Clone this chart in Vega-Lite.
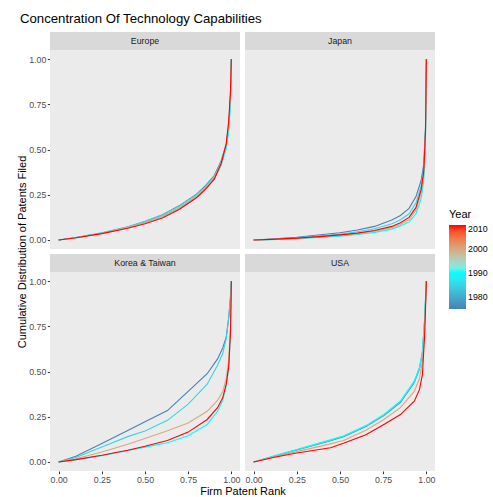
{
"$schema":"https://vega.github.io/schema/vega-lite/v6.json",
"padding":{"left":16,"top":11,"right":5,"bottom":0},
"background":"white",
"title":{"text":"Concentration Of Technology Capabilities","anchor":"start","frame":"bounds","fontSize":13.2,"fontWeight":"normal","color":"black","offset":6,"dx":3},
"datasets":{"d":[
{"r":"Europe","yr":1975,"x":0,"v":0},{"r":"Europe","yr":1975,"x":0.1,"v":0.013},{"r":"Europe","yr":1975,"x":0.25,"v":0.038},{"r":"Europe","yr":1975,"x":0.4,"v":0.072},{"r":"Europe","yr":1975,"x":0.5,"v":0.102},{"r":"Europe","yr":1975,"x":0.6,"v":0.138},{"r":"Europe","yr":1975,"x":0.7,"v":0.19},{"r":"Europe","yr":1975,"x":0.8,"v":0.255},{"r":"Europe","yr":1975,"x":0.85,"v":0.3},{"r":"Europe","yr":1975,"x":0.9,"v":0.355},{"r":"Europe","yr":1975,"x":0.94,"v":0.435},{"r":"Europe","yr":1975,"x":0.97,"v":0.53},{"r":"Europe","yr":1975,"x":0.985,"v":0.64},{"r":"Europe","yr":1975,"x":0.995,"v":0.8},{"r":"Europe","yr":1975,"x":1,"v":1},
{"r":"Europe","yr":1985,"x":0,"v":0},{"r":"Europe","yr":1985,"x":0.1,"v":0.013},{"r":"Europe","yr":1985,"x":0.25,"v":0.039},{"r":"Europe","yr":1985,"x":0.4,"v":0.073},{"r":"Europe","yr":1985,"x":0.5,"v":0.103},{"r":"Europe","yr":1985,"x":0.6,"v":0.14},{"r":"Europe","yr":1985,"x":0.7,"v":0.188},{"r":"Europe","yr":1985,"x":0.8,"v":0.252},{"r":"Europe","yr":1985,"x":0.85,"v":0.295},{"r":"Europe","yr":1985,"x":0.9,"v":0.35},{"r":"Europe","yr":1985,"x":0.94,"v":0.425},{"r":"Europe","yr":1985,"x":0.97,"v":0.52},{"r":"Europe","yr":1985,"x":0.985,"v":0.62},{"r":"Europe","yr":1985,"x":0.995,"v":0.78},{"r":"Europe","yr":1985,"x":1,"v":1},
{"r":"Europe","yr":1990,"x":0,"v":0},{"r":"Europe","yr":1990,"x":0.1,"v":0.012},{"r":"Europe","yr":1990,"x":0.25,"v":0.036},{"r":"Europe","yr":1990,"x":0.4,"v":0.068},{"r":"Europe","yr":1990,"x":0.5,"v":0.095},{"r":"Europe","yr":1990,"x":0.6,"v":0.128},{"r":"Europe","yr":1990,"x":0.7,"v":0.175},{"r":"Europe","yr":1990,"x":0.8,"v":0.24},{"r":"Europe","yr":1990,"x":0.85,"v":0.283},{"r":"Europe","yr":1990,"x":0.9,"v":0.335},{"r":"Europe","yr":1990,"x":0.94,"v":0.41},{"r":"Europe","yr":1990,"x":0.97,"v":0.505},{"r":"Europe","yr":1990,"x":0.985,"v":0.6},{"r":"Europe","yr":1990,"x":0.995,"v":0.76},{"r":"Europe","yr":1990,"x":1,"v":1},
{"r":"Europe","yr":2000,"x":0,"v":0},{"r":"Europe","yr":2000,"x":0.1,"v":0.012},{"r":"Europe","yr":2000,"x":0.25,"v":0.037},{"r":"Europe","yr":2000,"x":0.4,"v":0.07},{"r":"Europe","yr":2000,"x":0.5,"v":0.098},{"r":"Europe","yr":2000,"x":0.6,"v":0.132},{"r":"Europe","yr":2000,"x":0.7,"v":0.18},{"r":"Europe","yr":2000,"x":0.8,"v":0.245},{"r":"Europe","yr":2000,"x":0.85,"v":0.29},{"r":"Europe","yr":2000,"x":0.9,"v":0.345},{"r":"Europe","yr":2000,"x":0.94,"v":0.425},{"r":"Europe","yr":2000,"x":0.97,"v":0.525},{"r":"Europe","yr":2000,"x":0.985,"v":0.64},{"r":"Europe","yr":2000,"x":0.995,"v":0.8},{"r":"Europe","yr":2000,"x":1,"v":1},
{"r":"Europe","yr":2010,"x":0,"v":0},{"r":"Europe","yr":2010,"x":0.1,"v":0.012},{"r":"Europe","yr":2010,"x":0.25,"v":0.035},{"r":"Europe","yr":2010,"x":0.4,"v":0.065},{"r":"Europe","yr":2010,"x":0.5,"v":0.09},{"r":"Europe","yr":2010,"x":0.6,"v":0.122},{"r":"Europe","yr":2010,"x":0.7,"v":0.17},{"r":"Europe","yr":2010,"x":0.8,"v":0.235},{"r":"Europe","yr":2010,"x":0.85,"v":0.28},{"r":"Europe","yr":2010,"x":0.9,"v":0.335},{"r":"Europe","yr":2010,"x":0.94,"v":0.42},{"r":"Europe","yr":2010,"x":0.97,"v":0.53},{"r":"Europe","yr":2010,"x":0.985,"v":0.66},{"r":"Europe","yr":2010,"x":0.995,"v":0.83},{"r":"Europe","yr":2010,"x":1,"v":1},
{"r":"Japan","yr":1975,"x":0,"v":0},{"r":"Japan","yr":1975,"x":0.1,"v":0.005},{"r":"Japan","yr":1975,"x":0.25,"v":0.015},{"r":"Japan","yr":1975,"x":0.4,"v":0.03},{"r":"Japan","yr":1975,"x":0.5,"v":0.04},{"r":"Japan","yr":1975,"x":0.6,"v":0.055},{"r":"Japan","yr":1975,"x":0.7,"v":0.075},{"r":"Japan","yr":1975,"x":0.8,"v":0.11},{"r":"Japan","yr":1975,"x":0.85,"v":0.135},{"r":"Japan","yr":1975,"x":0.9,"v":0.175},{"r":"Japan","yr":1975,"x":0.94,"v":0.24},{"r":"Japan","yr":1975,"x":0.97,"v":0.33},{"r":"Japan","yr":1975,"x":0.985,"v":0.42},{"r":"Japan","yr":1975,"x":0.995,"v":0.62},{"r":"Japan","yr":1975,"x":1,"v":1},
{"r":"Japan","yr":1985,"x":0,"v":0},{"r":"Japan","yr":1985,"x":0.1,"v":0.004},{"r":"Japan","yr":1985,"x":0.25,"v":0.012},{"r":"Japan","yr":1985,"x":0.4,"v":0.024},{"r":"Japan","yr":1985,"x":0.5,"v":0.032},{"r":"Japan","yr":1985,"x":0.6,"v":0.045},{"r":"Japan","yr":1985,"x":0.7,"v":0.062},{"r":"Japan","yr":1985,"x":0.8,"v":0.09},{"r":"Japan","yr":1985,"x":0.85,"v":0.112},{"r":"Japan","yr":1985,"x":0.9,"v":0.145},{"r":"Japan","yr":1985,"x":0.94,"v":0.205},{"r":"Japan","yr":1985,"x":0.97,"v":0.3},{"r":"Japan","yr":1985,"x":0.985,"v":0.4},{"r":"Japan","yr":1985,"x":0.995,"v":0.61},{"r":"Japan","yr":1985,"x":1,"v":1},
{"r":"Japan","yr":1990,"x":0,"v":0},{"r":"Japan","yr":1990,"x":0.1,"v":0.002},{"r":"Japan","yr":1990,"x":0.25,"v":0.007},{"r":"Japan","yr":1990,"x":0.4,"v":0.015},{"r":"Japan","yr":1990,"x":0.5,"v":0.021},{"r":"Japan","yr":1990,"x":0.6,"v":0.03},{"r":"Japan","yr":1990,"x":0.7,"v":0.042},{"r":"Japan","yr":1990,"x":0.8,"v":0.06},{"r":"Japan","yr":1990,"x":0.85,"v":0.077},{"r":"Japan","yr":1990,"x":0.9,"v":0.1},{"r":"Japan","yr":1990,"x":0.94,"v":0.145},{"r":"Japan","yr":1990,"x":0.97,"v":0.23},{"r":"Japan","yr":1990,"x":0.985,"v":0.33},{"r":"Japan","yr":1990,"x":0.995,"v":0.56},{"r":"Japan","yr":1990,"x":1,"v":1},
{"r":"Japan","yr":2000,"x":0,"v":0},{"r":"Japan","yr":2000,"x":0.1,"v":0.003},{"r":"Japan","yr":2000,"x":0.25,"v":0.009},{"r":"Japan","yr":2000,"x":0.4,"v":0.018},{"r":"Japan","yr":2000,"x":0.5,"v":0.025},{"r":"Japan","yr":2000,"x":0.6,"v":0.035},{"r":"Japan","yr":2000,"x":0.7,"v":0.048},{"r":"Japan","yr":2000,"x":0.8,"v":0.068},{"r":"Japan","yr":2000,"x":0.85,"v":0.085},{"r":"Japan","yr":2000,"x":0.9,"v":0.112},{"r":"Japan","yr":2000,"x":0.94,"v":0.165},{"r":"Japan","yr":2000,"x":0.97,"v":0.26},{"r":"Japan","yr":2000,"x":0.985,"v":0.36},{"r":"Japan","yr":2000,"x":0.995,"v":0.58},{"r":"Japan","yr":2000,"x":1,"v":1},
{"r":"Japan","yr":2010,"x":0,"v":0},{"r":"Japan","yr":2010,"x":0.1,"v":0.003},{"r":"Japan","yr":2010,"x":0.25,"v":0.01},{"r":"Japan","yr":2010,"x":0.4,"v":0.02},{"r":"Japan","yr":2010,"x":0.5,"v":0.028},{"r":"Japan","yr":2010,"x":0.6,"v":0.038},{"r":"Japan","yr":2010,"x":0.7,"v":0.052},{"r":"Japan","yr":2010,"x":0.8,"v":0.075},{"r":"Japan","yr":2010,"x":0.85,"v":0.095},{"r":"Japan","yr":2010,"x":0.9,"v":0.125},{"r":"Japan","yr":2010,"x":0.94,"v":0.18},{"r":"Japan","yr":2010,"x":0.97,"v":0.28},{"r":"Japan","yr":2010,"x":0.985,"v":0.38},{"r":"Japan","yr":2010,"x":0.995,"v":0.6},{"r":"Japan","yr":2010,"x":1,"v":1},
{"r":"Korea & Taiwan","yr":1975,"x":0,"v":0},{"r":"Korea & Taiwan","yr":1975,"x":0.1,"v":0.032},{"r":"Korea & Taiwan","yr":1975,"x":0.25,"v":0.102},{"r":"Korea & Taiwan","yr":1975,"x":0.4,"v":0.174},{"r":"Korea & Taiwan","yr":1975,"x":0.5,"v":0.222},{"r":"Korea & Taiwan","yr":1975,"x":0.63,"v":0.284},{"r":"Korea & Taiwan","yr":1975,"x":0.75,"v":0.39},{"r":"Korea & Taiwan","yr":1975,"x":0.86,"v":0.488},{"r":"Korea & Taiwan","yr":1975,"x":0.92,"v":0.57},{"r":"Korea & Taiwan","yr":1975,"x":0.95,"v":0.63},{"r":"Korea & Taiwan","yr":1975,"x":0.97,"v":0.69},{"r":"Korea & Taiwan","yr":1975,"x":0.985,"v":0.8},{"r":"Korea & Taiwan","yr":1975,"x":0.995,"v":0.91},{"r":"Korea & Taiwan","yr":1975,"x":1,"v":1},
{"r":"Korea & Taiwan","yr":1985,"x":0,"v":0},{"r":"Korea & Taiwan","yr":1985,"x":0.1,"v":0.025},{"r":"Korea & Taiwan","yr":1985,"x":0.25,"v":0.083},{"r":"Korea & Taiwan","yr":1985,"x":0.4,"v":0.14},{"r":"Korea & Taiwan","yr":1985,"x":0.5,"v":0.171},{"r":"Korea & Taiwan","yr":1985,"x":0.63,"v":0.23},{"r":"Korea & Taiwan","yr":1985,"x":0.75,"v":0.32},{"r":"Korea & Taiwan","yr":1985,"x":0.86,"v":0.43},{"r":"Korea & Taiwan","yr":1985,"x":0.92,"v":0.535},{"r":"Korea & Taiwan","yr":1985,"x":0.95,"v":0.6},{"r":"Korea & Taiwan","yr":1985,"x":0.97,"v":0.68},{"r":"Korea & Taiwan","yr":1985,"x":0.985,"v":0.8},{"r":"Korea & Taiwan","yr":1985,"x":0.995,"v":0.92},{"r":"Korea & Taiwan","yr":1985,"x":1,"v":1},
{"r":"Korea & Taiwan","yr":1990,"x":0,"v":0},{"r":"Korea & Taiwan","yr":1990,"x":0.1,"v":0.013},{"r":"Korea & Taiwan","yr":1990,"x":0.25,"v":0.035},{"r":"Korea & Taiwan","yr":1990,"x":0.4,"v":0.063},{"r":"Korea & Taiwan","yr":1990,"x":0.5,"v":0.082},{"r":"Korea & Taiwan","yr":1990,"x":0.63,"v":0.106},{"r":"Korea & Taiwan","yr":1990,"x":0.75,"v":0.145},{"r":"Korea & Taiwan","yr":1990,"x":0.86,"v":0.207},{"r":"Korea & Taiwan","yr":1990,"x":0.92,"v":0.28},{"r":"Korea & Taiwan","yr":1990,"x":0.95,"v":0.34},{"r":"Korea & Taiwan","yr":1990,"x":0.97,"v":0.42},{"r":"Korea & Taiwan","yr":1990,"x":0.985,"v":0.52},{"r":"Korea & Taiwan","yr":1990,"x":0.995,"v":0.72},{"r":"Korea & Taiwan","yr":1990,"x":1,"v":1},
{"r":"Korea & Taiwan","yr":2000,"x":0,"v":0},{"r":"Korea & Taiwan","yr":2000,"x":0.1,"v":0.018},{"r":"Korea & Taiwan","yr":2000,"x":0.25,"v":0.055},{"r":"Korea & Taiwan","yr":2000,"x":0.4,"v":0.098},{"r":"Korea & Taiwan","yr":2000,"x":0.5,"v":0.13},{"r":"Korea & Taiwan","yr":2000,"x":0.63,"v":0.172},{"r":"Korea & Taiwan","yr":2000,"x":0.75,"v":0.215},{"r":"Korea & Taiwan","yr":2000,"x":0.86,"v":0.28},{"r":"Korea & Taiwan","yr":2000,"x":0.92,"v":0.34},{"r":"Korea & Taiwan","yr":2000,"x":0.95,"v":0.39},{"r":"Korea & Taiwan","yr":2000,"x":0.97,"v":0.46},{"r":"Korea & Taiwan","yr":2000,"x":0.985,"v":0.57},{"r":"Korea & Taiwan","yr":2000,"x":0.995,"v":0.75},{"r":"Korea & Taiwan","yr":2000,"x":1,"v":1},
{"r":"Korea & Taiwan","yr":2010,"x":0,"v":0},{"r":"Korea & Taiwan","yr":2010,"x":0.1,"v":0.013},{"r":"Korea & Taiwan","yr":2010,"x":0.25,"v":0.037},{"r":"Korea & Taiwan","yr":2010,"x":0.4,"v":0.065},{"r":"Korea & Taiwan","yr":2010,"x":0.5,"v":0.087},{"r":"Korea & Taiwan","yr":2010,"x":0.63,"v":0.119},{"r":"Korea & Taiwan","yr":2010,"x":0.75,"v":0.165},{"r":"Korea & Taiwan","yr":2010,"x":0.86,"v":0.235},{"r":"Korea & Taiwan","yr":2010,"x":0.92,"v":0.3},{"r":"Korea & Taiwan","yr":2010,"x":0.95,"v":0.355},{"r":"Korea & Taiwan","yr":2010,"x":0.97,"v":0.43},{"r":"Korea & Taiwan","yr":2010,"x":0.985,"v":0.53},{"r":"Korea & Taiwan","yr":2010,"x":0.995,"v":0.72},{"r":"Korea & Taiwan","yr":2010,"x":1,"v":1},
{"r":"USA","yr":1975,"x":0,"v":0},{"r":"USA","yr":1975,"x":0.12,"v":0.032},{"r":"USA","yr":1975,"x":0.25,"v":0.066},{"r":"USA","yr":1975,"x":0.445,"v":0.118},{"r":"USA","yr":1975,"x":0.52,"v":0.14},{"r":"USA","yr":1975,"x":0.65,"v":0.196},{"r":"USA","yr":1975,"x":0.754,"v":0.256},{"r":"USA","yr":1975,"x":0.85,"v":0.33},{"r":"USA","yr":1975,"x":0.93,"v":0.44},{"r":"USA","yr":1975,"x":0.96,"v":0.515},{"r":"USA","yr":1975,"x":0.977,"v":0.6},{"r":"USA","yr":1975,"x":0.99,"v":0.78},{"r":"USA","yr":1975,"x":1,"v":1},
{"r":"USA","yr":1985,"x":0,"v":0},{"r":"USA","yr":1985,"x":0.12,"v":0.033},{"r":"USA","yr":1985,"x":0.25,"v":0.067},{"r":"USA","yr":1985,"x":0.445,"v":0.12},{"r":"USA","yr":1985,"x":0.52,"v":0.142},{"r":"USA","yr":1985,"x":0.65,"v":0.198},{"r":"USA","yr":1985,"x":0.754,"v":0.259},{"r":"USA","yr":1985,"x":0.85,"v":0.333},{"r":"USA","yr":1985,"x":0.93,"v":0.443},{"r":"USA","yr":1985,"x":0.96,"v":0.518},{"r":"USA","yr":1985,"x":0.977,"v":0.605},{"r":"USA","yr":1985,"x":0.99,"v":0.785},{"r":"USA","yr":1985,"x":1,"v":1},
{"r":"USA","yr":1990,"x":0,"v":0},{"r":"USA","yr":1990,"x":0.12,"v":0.034},{"r":"USA","yr":1990,"x":0.25,"v":0.069},{"r":"USA","yr":1990,"x":0.445,"v":0.122},{"r":"USA","yr":1990,"x":0.52,"v":0.144},{"r":"USA","yr":1990,"x":0.65,"v":0.201},{"r":"USA","yr":1990,"x":0.754,"v":0.263},{"r":"USA","yr":1990,"x":0.85,"v":0.337},{"r":"USA","yr":1990,"x":0.93,"v":0.447},{"r":"USA","yr":1990,"x":0.96,"v":0.522},{"r":"USA","yr":1990,"x":0.977,"v":0.61},{"r":"USA","yr":1990,"x":0.99,"v":0.79},{"r":"USA","yr":1990,"x":1,"v":1},
{"r":"USA","yr":2000,"x":0,"v":0},{"r":"USA","yr":2000,"x":0.12,"v":0.028},{"r":"USA","yr":2000,"x":0.25,"v":0.057},{"r":"USA","yr":2000,"x":0.445,"v":0.1},{"r":"USA","yr":2000,"x":0.52,"v":0.119},{"r":"USA","yr":2000,"x":0.65,"v":0.175},{"r":"USA","yr":2000,"x":0.754,"v":0.235},{"r":"USA","yr":2000,"x":0.85,"v":0.3},{"r":"USA","yr":2000,"x":0.93,"v":0.39},{"r":"USA","yr":2000,"x":0.96,"v":0.46},{"r":"USA","yr":2000,"x":0.977,"v":0.556},{"r":"USA","yr":2000,"x":0.99,"v":0.75},{"r":"USA","yr":2000,"x":1,"v":1},
{"r":"USA","yr":2010,"x":0,"v":0},{"r":"USA","yr":2010,"x":0.12,"v":0.026},{"r":"USA","yr":2010,"x":0.25,"v":0.05},{"r":"USA","yr":2010,"x":0.445,"v":0.079},{"r":"USA","yr":2010,"x":0.52,"v":0.103},{"r":"USA","yr":2010,"x":0.65,"v":0.15},{"r":"USA","yr":2010,"x":0.754,"v":0.207},{"r":"USA","yr":2010,"x":0.85,"v":0.262},{"r":"USA","yr":2010,"x":0.93,"v":0.336},{"r":"USA","yr":2010,"x":0.96,"v":0.4},{"r":"USA","yr":2010,"x":0.977,"v":0.483},{"r":"USA","yr":2010,"x":0.99,"v":0.7},{"r":"USA","yr":2010,"x":1,"v":1}
]},
"data":{"name":"d"},
"transform":[
{"calculate":"datum.r==='Europe'||datum.r==='Japan' ? 'a' : 'b'","as":"pr"},
{"calculate":"datum.r==='Europe'||datum.r==='Korea & Taiwan' ? 'a' : 'b'","as":"pc"}
],
"facet":{
"row":{"field":"pr","type":"nominal","header":{"title":"Cumulative Distribution of Patents Filed","labels":false,"titleOrient":"left","titleFontSize":11,"titleFontWeight":"normal","titleColor":"black","titlePadding":-10}},
"column":{"field":"pc","type":"nominal","header":{"title":"Firm Patent Rank","labels":false,"titleOrient":"bottom","titleFontSize":11,"titleFontWeight":"normal","titleColor":"black","titlePadding":-8}}
},
"spacing":{"row":5,"column":5},
"spec":{
"width":190,"height":217,
"layer":[
{"transform":[{"filter":"datum.x==0 && datum.yr==2010"}],
 "mark":{"type":"rect","color":"#D9D9D9"},
 "encoding":{
  "x":{"datum":-0.05,"type":"quantitative","scale":{"domain":[-0.05,1.05],"nice":false,"zero":false}},
  "x2":{"datum":1.05},
  "y":{"datum":1.05,"type":"quantitative","scale":{"domain":[-0.05,1.15],"nice":false,"zero":false}},
  "y2":{"datum":1.15}}},
{"transform":[{"filter":"datum.x==0 && datum.yr==2010"}],
 "mark":{"type":"text","fontSize":8.8,"color":"#1A1A1A","baseline":"middle","align":"center"},
 "encoding":{
  "x":{"datum":0.5,"type":"quantitative"},
  "y":{"datum":1.1,"type":"quantitative"},
  "text":{"field":"r","type":"nominal"}}},
{"mark":{"type":"line","strokeWidth":1.1},
 "encoding":{
  "x":{"field":"x","type":"quantitative","scale":{"domain":[-0.05,1.05],"nice":false,"zero":false},
   "axis":{"title":null,"values":[0,0.125,0.25,0.375,0.5,0.625,0.75,0.875,1],"labelExpr":"(datum.value*4)%1==0 ? format(datum.value,'.2f') : ''"}},
  "y":{"field":"v","type":"quantitative","scale":{"domain":[-0.05,1.15],"nice":false,"zero":false},
   "axis":{"title":null,"values":[0,0.125,0.25,0.375,0.5,0.625,0.75,0.875,1],"labelExpr":"(datum.value*4)%1==0 ? format(datum.value,'.2f') : ''"}},
  "color":{"field":"yr","type":"quantitative","scale":{"domain":[1975,1990,2010],"range":["#4682B4","#00FFFF","#FF0000"],"interpolate":"lab"},
   "legend":{"title":"Year","values":[1980,1990,2000,2010],"format":"d","orient":"none","legendX":399,"legendY":177}},
  "detail":{"field":"yr","type":"nominal"}}}
]},
"config":{
"font":"Liberation Sans",
"view":{"fill":"#EBEBEB","stroke":null},
"axis":{"domain":false,"gridColor":"white",
 "gridWidth":{"condition":{"test":"(datum.value*4)%1==0","value":1.07},"value":0.53},
 "tickOpacity":{"condition":{"test":"(datum.value*4)%1==0","value":1},"value":0},
 "tickColor":"#333333","tickSize":2.7,"labelColor":"#4D4D4D","labelFontSize":8.8,"labelPadding":1.5},
"legend":{"gradientLength":84,"gradientThickness":17,"titleFontSize":11,"titleFontWeight":"normal","titleColor":"black","labelFontSize":8.8,"labelColor":"black","gradientStrokeWidth":0,"titlePadding":5}
}
}
